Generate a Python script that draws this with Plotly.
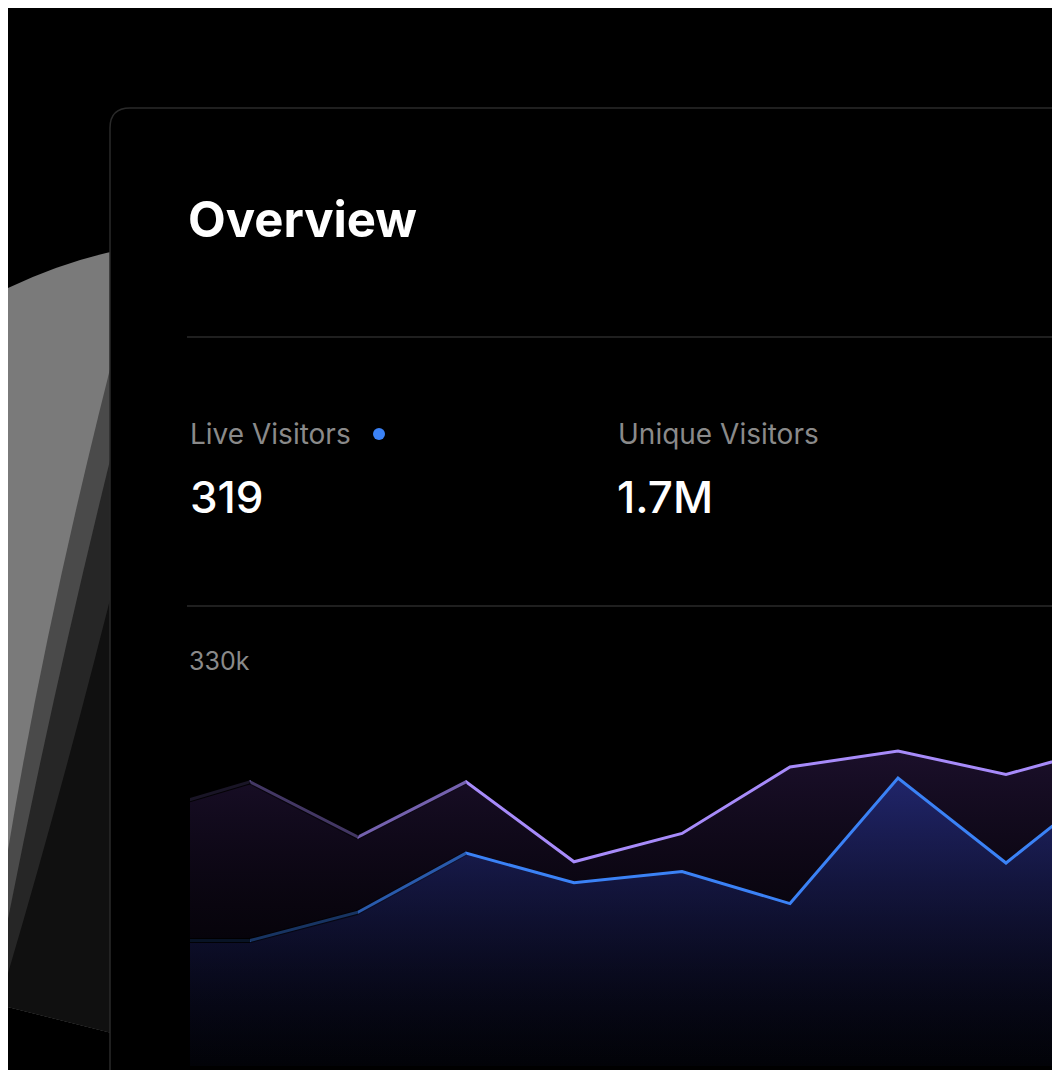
import plotly.graph_objects as go

# chart data (thousands of visitors), one point per period
periods = list(range(10))
total_visitors = [205, 231, 186, 231, 166, 189, 243, 256, 237, 261]
unique_visitors = [102, 102, 125, 173, 149, 158, 132, 234, 165, 235]
axis_top_label = "330k"
stat_labels = ["Live Visitors", "Unique Visitors"]
stat_values = ["319", "1.7M"]

W, H = 1060, 1070
OFF = 8  # page body margin
BG = "#000000"
FONT = "Inter, Noto Sans, sans-serif"

fig = go.Figure()

fig.add_trace(go.Scatter(
    x=periods, y=total_visitors, mode="lines",
    line=dict(color="#a78bfa", width=3), fill="tozeroy",
    fillgradient=dict(type="vertical", colorscale=[[0, "rgba(20,10,40,0.0)"], [1, "rgba(70,40,110,0.4)"]]),
    hoverinfo="skip"))
fig.add_trace(go.Scatter(
    x=periods, y=unique_visitors, mode="lines",
    line=dict(color="#3b82f6", width=3), fill="tozeroy",
    fillgradient=dict(type="vertical", colorscale=[[0, "rgba(10,14,40,0.2)"], [1, "rgba(35,45,130,0.75)"]]),
    hoverinfo="skip"))

# left fade of the lines
for i, a in [(0, 0.85), (1, 0.6), (2, 0.3)]:
    for series in (total_visitors, unique_visitors):
        fig.add_trace(go.Scatter(x=[i, i + 1], y=[series[i], series[i + 1]], mode="lines",
                                 line=dict(color=f"rgba(0,0,0,{a})", width=5), hoverinfo="skip"))


def px(x):
    return (x - OFF) / W


def py(y):
    return 1 - (y - OFF) / H


fig.update_xaxes(domain=[px(190), 1], range=[48 / 108, (W + OFF - 142) / 108], visible=False)
fig.update_yaxes(domain=[py(1066), py(660)], range=[0, 330], visible=False)

shapes = []
# sphere edge on the left, layered greys from lit rim to shadow
shapes.append(dict(type="path", xref="paper", yref="paper", layer="below",
                   path=f"M {px(0)},{py(292)} Q {px(60)},{py(262)} {px(120)},{py(250)} L {px(120)},{py(1035)} "
                        f"L {px(0)},{py(1005)} Z",
                   fillcolor="#7a7a7a", line=dict(width=0)))
shapes.append(dict(type="path", xref="paper", yref="paper", layer="below",
                   path=f"M {px(120)},{py(330)} Q {px(40)},{py(640)} {px(0)},{py(900)} L {px(0)},{py(1005)} L {px(120)},{py(1035)} Z",
                   fillcolor="#4a4a4a", line=dict(width=0)))
shapes.append(dict(type="path", xref="paper", yref="paper", layer="below",
                   path=f"M {px(120)},{py(420)} Q {px(50)},{py(700)} {px(0)},{py(960)} L {px(0)},{py(1005)} L {px(120)},{py(1035)} Z",
                   fillcolor="#262626", line=dict(width=0)))
shapes.append(dict(type="path", xref="paper", yref="paper", layer="below",
                   path=f"M {px(120)},{py(560)} Q {px(60)},{py(800)} {px(0)},{py(1000)} L {px(0)},{py(1005)} L {px(120)},{py(1035)} Z",
                   fillcolor="#101010", line=dict(width=0)))
# inner card
shapes.append(dict(type="path", xref="paper", yref="paper", layer="below",
                   path=f"M {px(110)},{py(1080)} L {px(110)},{py(128)} Q {px(110)},{py(108)} {px(130)},{py(108)} "
                        f"L {px(1080)},{py(108)} L {px(1080)},{py(1080)} Z",
                   fillcolor=BG, line=dict(color="#2a2a2a", width=1.5)))
for y in (337, 606):
    shapes.append(dict(type="line", xref="paper", yref="paper", x0=px(187), x1=1, y0=py(y), y1=py(y),
                       line=dict(color="#2a2a2a", width=1.5)))
shapes.append(dict(type="circle", xref="paper", yref="paper", x0=px(373), x1=px(385), y0=py(440), y1=py(428),
                   fillcolor="#3b82f6", line=dict(width=0)))

ann = []


def text(x, y, s, size, color, weight=400):
    ann.append(dict(xref="paper", yref="paper", x=px(x), y=py(y), xanchor="left", yanchor="middle",
                    text=s, showarrow=False,
                    font=dict(family=FONT, size=size, color=color, weight=weight)))


text(186, 220, "Overview", 49, "#ffffff", 700)
text(188, 434, stat_labels[0], 28, "#8a8a8a")
text(616, 434, stat_labels[1], 28, "#8a8a8a")
text(188, 497, stat_values[0], 44, "#ffffff", 500)
text(615, 497, stat_values[1], 44, "#ffffff", 500)
text(187, 661, axis_top_label, 25, "#8a8a8a")

fig.update_layout(width=W, height=H, margin=dict(l=0, r=0, t=0, b=0),
                  paper_bgcolor=BG, plot_bgcolor="rgba(0,0,0,0)", showlegend=False,
                  shapes=shapes, annotations=ann)

fig.write_html("out.html")
